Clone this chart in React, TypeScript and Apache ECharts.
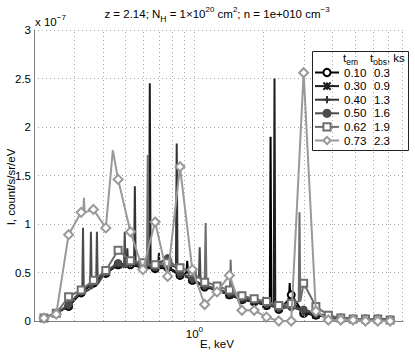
import React, { useEffect, useRef } from 'react';
import * as echarts from 'echarts';

// marker energies (keV)
const energies = [0.221, 0.250, 0.283, 0.321, 0.363, 0.411, 0.465, 0.526, 0.596, 0.674, 0.764, 0.865, 0.979, 1.108, 1.254, 1.42, 1.61, 1.82, 2.06, 2.33, 2.64, 2.99, 3.38, 3.83, 4.34, 4.91, 5.56, 6.29, 7.12];
const tEm = ['0.10', '0.30', '0.40', '0.50', '0.62', '0.73'];
const tObs = ['0.3', '0.9', '1.3', '1.6', '1.9', '2.3'];
const gridTicks = [0.3, 0.4, 0.5, 0.6, 0.7, 0.8, 0.9, 1, 2, 3, 4, 5, 6, 7, 8];
const yTicks = [0, 0.5, 1, 1.5, 2, 2.5, 3];

// continuum values (x 1e-7) at the marker energies
const cont010 = [0.03, 0.08, 0.15, 0.29, 0.39, 0.49, 0.58, 0.58, 0.55, 0.54, 0.55, 0.47, 0.42, 0.35, 0.32, 0.27, 0.22, 0.20, 0.16, 0.12, 0.27, 0.08, 0.06, 0.04, 0.03, 0.02, 0.02, 0.02, 0.01];
const cont030 = [0.03, 0.08, 0.16, 0.30, 0.40, 0.50, 0.58, 0.59, 0.56, 0.55, 0.56, 0.48, 0.43, 0.36, 0.32, 0.27, 0.22, 0.20, 0.16, 0.13, 0.20, 0.09, 0.06, 0.04, 0.03, 0.02, 0.02, 0.02, 0.01];
const cont040 = [0.03, 0.08, 0.16, 0.30, 0.40, 0.50, 0.59, 0.60, 0.57, 0.56, 0.58, 0.49, 0.43, 0.36, 0.33, 0.28, 0.23, 0.21, 0.17, 0.13, 0.15, 0.10, 0.07, 0.04, 0.03, 0.02, 0.02, 0.02, 0.01];
const cont050 = [0.03, 0.08, 0.17, 0.31, 0.41, 0.51, 0.60, 0.61, 0.58, 0.57, 0.65, 0.50, 0.44, 0.37, 0.33, 0.29, 0.24, 0.22, 0.18, 0.14, 0.14, 0.12, 0.08, 0.05, 0.03, 0.02, 0.02, 0.02, 0.01];
const cont062 = [0.03, 0.08, 0.25, 0.32, 0.42, 0.52, 0.73, 0.62, 0.60, 0.58, 0.60, 0.55, 0.50, 0.40, 0.36, 0.32, 0.26, 0.23, 0.20, 0.16, 0.18, 0.39, 0.15, 0.06, 0.03, 0.02, 0.02, 0.02, 0.01];
const cont073 = [0.03, 0.07, 0.89, 1.12, 1.15, 0.96, 1.46, 0.92, 0.53, 1.02, 0.46, 1.59, 0.53, 0.17, 0.30, 0.47, 0.11, 0.11, 0.04, 0.00, 0.00, 2.56, 0.10, 0.01, 0.01, 0.01, 0.00, 0.00, 0.00];

// narrow emission lines: [energy keV, base, peak]
const lines010 = [[2.146, 0.17, 1.90], [2.60, 0.22, 0.39], [0.93, 0.50, 0.62]];
const lines030 = [[0.639, 0.55, 2.45], [2.232, 0.17, 2.50], [0.70, 0.56, 0.70]];
const lines040 = [[0.837, 0.56, 1.83], [0.550, 0.58, 1.39], [0.51, 0.57, 0.75]];
const lines050 = [[0.327, 0.29, 0.96], [0.354, 0.33, 0.92], [0.376, 0.38, 0.92], [0.497, 0.55, 0.92], [1.054, 0.45, 0.76]];
const lines062 = [[0.626, 0.58, 1.71], [1.119, 0.40, 1.01], [2.868, 0.20, 1.12], [1.438, 0.30, 0.63]];
const lines073 = [[0.330, 1.12, 1.27]];
// extra unmarked points
const extra073 = [[0.441, 1.76]];

const colors = ['#000000', '#1e1e1e', '#333333', '#4c4c4c', '#6e6e6e', '#999999'];
const FONT = '"Liberation Sans", Arial, sans-serif';

type Pt = { value: number[]; marker: boolean };

function build(cont: number[], lines: number[][], extra: number[][] = []) {
  const pts: Pt[] = cont.map((v, i) => ({ value: [energies[i], v], marker: true }));
  lines.forEach(([e, b, p]) => {
    pts.push({ value: [e / 1.008, b], marker: false });
    pts.push({ value: [e, p], marker: false });
    pts.push({ value: [e * 1.008, b], marker: false });
  });
  extra.forEach(([e, v]) => pts.push({ value: [e, v], marker: false }));
  pts.sort((a, b) => a.value[0] - b.value[0]);
  return pts.map((p) => (p.marker ? { value: p.value } : { value: p.value, symbol: 'none' }));
}

const symbols = [
  'emptyCircle',
  'path://M0,0L10,10M10,0L0,10M5,0L5,10',
  'path://M5,0L5,10M0,5L10,5',
  'circle',
  'emptyRect',
  'emptyDiamond',
];
const symbolSizes = [7, 7, 8, 6, 7, 9];

export default function App() {
  const ref = useRef<HTMLDivElement>(null);
  useEffect(() => {
    document.body.style.margin = '0';
    const chart = echarts.init(ref.current!, null, { renderer: 'svg' });
    const conts = [cont010, cont030, cont040, cont050, cont062, cont073];
    const lines = [lines010, lines030, lines040, lines050, lines062, lines073];
    const extras = [[], [], [], [], [], extra073];
    const names = tEm.map((t, i) => `${t} ${tObs[i]}`);

    const series: any[] = [
      {
        type: 'line',
        data: [],
        z: 1,
        silent: true,
        markLine: {
          silent: true,
          symbol: ['none', 'none'],
          label: { show: false },
          lineStyle: { type: [1, 3], color: '#a8a8a8', width: 1 },
          data: gridTicks.map((x) => ({ xAxis: x })),
        },
      },
    ];
    conts.forEach((c, i) => {
      series.push({
        type: 'line',
        name: names[i],
        data: build(c, lines[i], extras[i] as number[][]),
        symbol: symbols[i],
        symbolSize: symbolSizes[i],
        showAllSymbol: true,
        z: 2 + i,
        color: colors[i],
        lineStyle: { color: colors[i], width: 2 },
        itemStyle: { color: colors[i], borderColor: colors[i], borderWidth: 1.6 },
      });
    });

    chart.setOption({
      animation: false,
      grid: { left: 34, right: 12, top: 30, bottom: 32, containLabel: false },
      xAxis: {
        type: 'log',
        logBase: 10,
        min: 0.2,
        max: 8.1,
        axisLine: { show: true, lineStyle: { color: '#808080', width: 1 } },
        axisTick: { show: false },
        splitLine: { show: false },
        axisLabel: {
          showMinLabel: false,
          showMaxLabel: false,
          margin: 4,
          formatter: (v: number) => (Math.abs(v - 1) < 1e-9 ? '{a|10}{s|0}' : ''),
          rich: {
            a: { fontFamily: FONT, fontSize: 11.5, color: '#000', lineHeight: 18 },
            s: { fontFamily: FONT, fontSize: 8, color: '#000', lineHeight: 7, verticalAlign: 'top' },
          },
        },
      },
      yAxis: {
        type: 'value',
        min: 0,
        max: 3,
        interval: 0.5,
        axisLine: { show: true, lineStyle: { color: '#808080', width: 1 } },
        axisTick: { show: false },
        splitLine: { show: true, lineStyle: { type: [1, 3], color: '#a8a8a8', width: 1 } },
        axisLabel: {
          margin: 3,
          fontFamily: FONT,
          fontSize: 11.5,
          color: '#000',
          formatter: (v: number) => (yTicks.includes(v) ? String(v) : ''),
        },
      },
      legend: {
        orient: 'vertical',
        left: 314,
        top: 66,
        z: 6,
        itemWidth: 24,
        itemHeight: 9,
        itemGap: 0.6,
        padding: 0,
        data: names,
        formatter: (name: string) => {
          const i = names.indexOf(name);
          return `{a|${tEm[i]}}{b|${tObs[i]}}`;
        },
        textStyle: {
          fontFamily: FONT,
          fontSize: 11.5,
          color: '#000',
          lineHeight: 13,
          rich: {
            a: { fontFamily: FONT, fontSize: 11.5, width: 30, lineHeight: 13, color: '#000' },
            b: { fontFamily: FONT, fontSize: 11.5, lineHeight: 13, color: '#000' },
          },
        },
      },
      graphic: [
        {
          type: 'rect',
          z: 5,
          shape: { x: 312.5, y: 51.5, width: 96, height: 99 },
          style: { fill: '#ffffff', stroke: '#222', lineWidth: 1 },
        },
        {
          type: 'text',
          z: 7,
          x: 343,
          y: 58,
          style: {
            text: 't{sub|em}',
            fontFamily: FONT,
            fontSize: 11.5,
            fill: '#000',
            textVerticalAlign: 'middle',
            lineHeight: 16,
            rich: { sub: { fontFamily: FONT, fontSize: 8.5, lineHeight: 9, verticalAlign: 'bottom', fill: '#000' } },
          },
        },
        {
          type: 'text',
          z: 7,
          x: 370,
          y: 58,
          style: {
            text: 't{sub|obs}, ks',
            fontFamily: FONT,
            fontSize: 11.5,
            fill: '#000',
            textVerticalAlign: 'middle',
            lineHeight: 16,
            rich: { sub: { fontFamily: FONT, fontSize: 8.5, lineHeight: 9, verticalAlign: 'bottom', fill: '#000' } },
          },
        },
        {
          type: 'text',
          x: 217,
          y: 14,
          style: {
            text: 'z = 2.14; N{sub|H} = 1×10{sup|20} cm{sup|2}; n = 1e+010 cm{sup|−3}',
            fontFamily: FONT,
            fontSize: 11.5,
            fill: '#000',
            textAlign: 'center',
            textVerticalAlign: 'middle',
            lineHeight: 18,
            rich: {
              sup: { fontFamily: FONT, fontSize: 8, lineHeight: 7, verticalAlign: 'top', fill: '#000' },
              sub: { fontFamily: FONT, fontSize: 8.5, lineHeight: 11, verticalAlign: 'bottom', fill: '#000' },
            },
          },
        },
        {
          type: 'text',
          x: 35,
          y: 22,
          style: {
            text: 'x 10{sup|−7}',
            fontFamily: FONT,
            fontSize: 11.5,
            fill: '#000',
            textVerticalAlign: 'middle',
            lineHeight: 18,
            rich: { sup: { fontFamily: FONT, fontSize: 8, lineHeight: 7, verticalAlign: 'top', fill: '#000' } },
          },
        },
        {
          type: 'text',
          x: 217,
          y: 344,
          style: {
            text: 'E, keV',
            fontFamily: FONT,
            fontSize: 11.5,
            fill: '#000',
            textAlign: 'center',
            textVerticalAlign: 'middle',
          },
        },
        {
          type: 'text',
          x: 11,
          y: 187,
          rotation: Math.PI / 2,
          style: {
            text: 'I, count/s/sr/eV',
            fontFamily: FONT,
            fontSize: 11.5,
            fill: '#000',
            textAlign: 'center',
            textVerticalAlign: 'middle',
          },
        },
      ],
      series,
    });
    return () => chart.dispose();
  }, []);
  return <div ref={ref} style={{ position: 'absolute', left: 0, top: 0, width: 415, height: 353 }} />;
}
